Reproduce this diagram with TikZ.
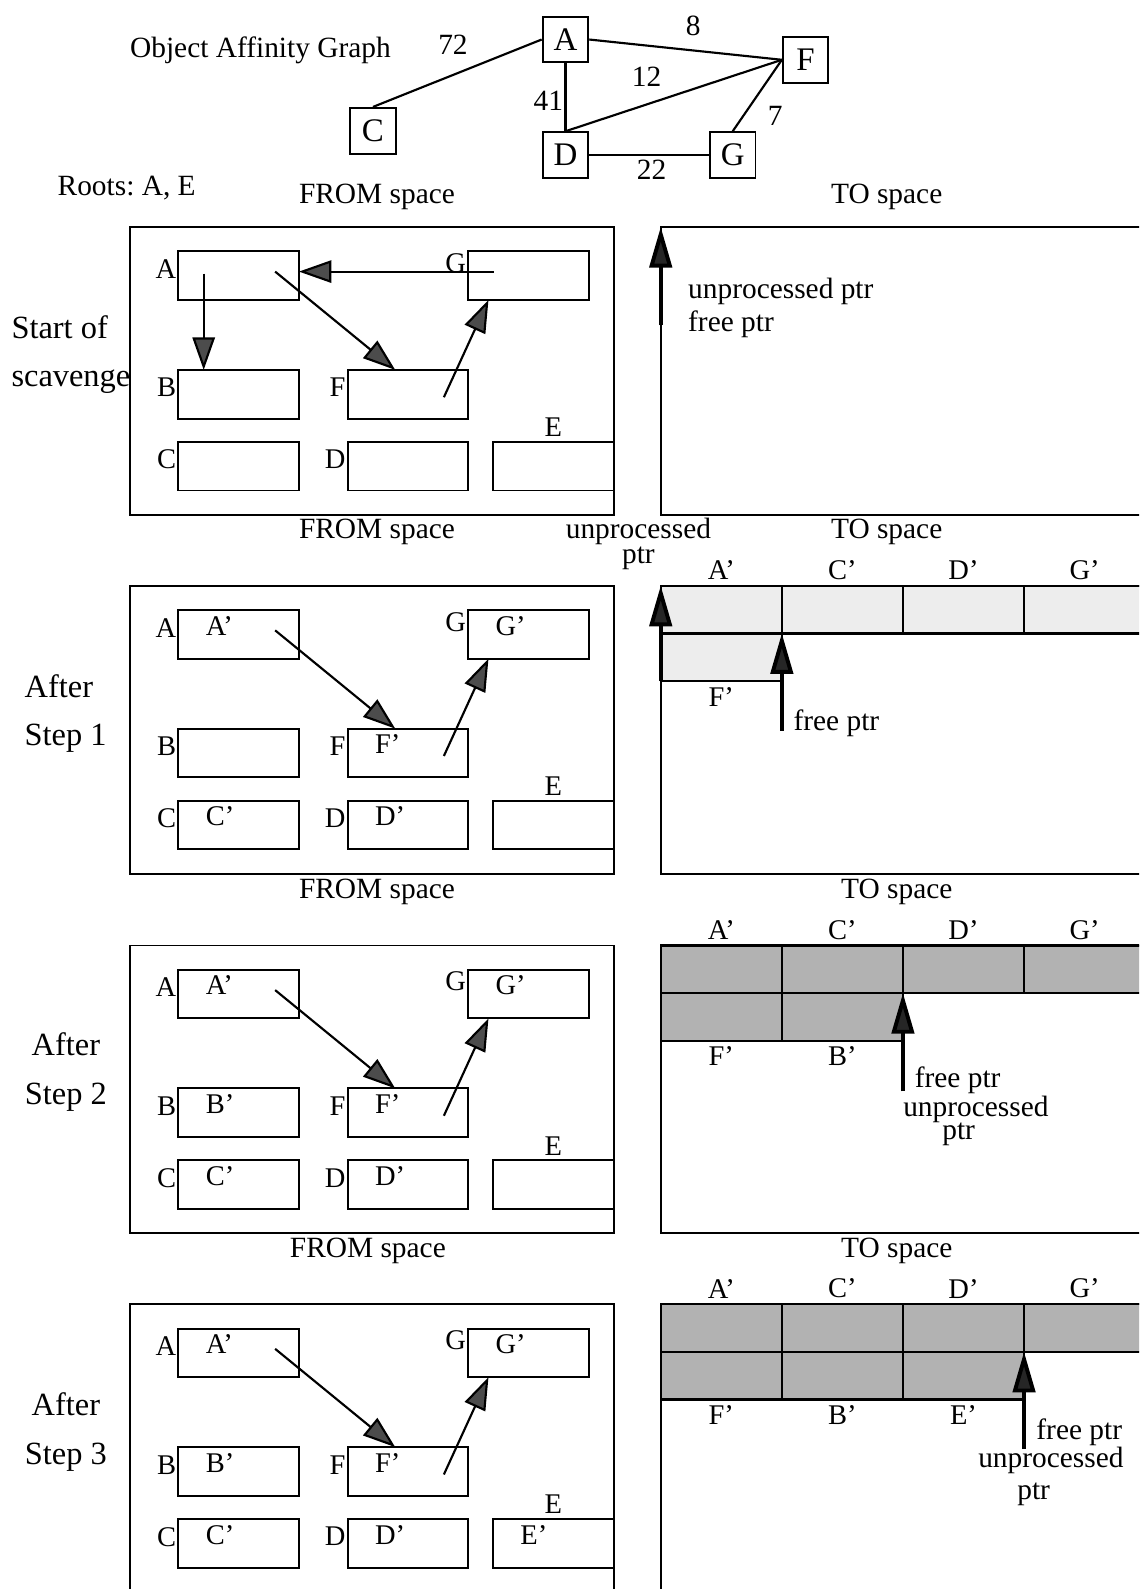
\documentclass[tikz,border=0pt]{standalone}
\usepackage{fontspec}
\setmainfont{Liberation Serif}
\usetikzlibrary{arrows.meta,positioning}

\tikzset{
  txt/.style={font=\fontsize{16.5}{18}\selectfont, inner sep=1pt},
  side/.style={font=\fontsize{18.2}{27.2}\selectfont, inner sep=0pt},
  small/.style={font=\fontsize{16}{17}\selectfont, inner sep=1pt},
  gnode/.style={draw, line width=1.1pt, minimum size=9mm, inner sep=0pt,
    font=\fontsize{18.5}{20}\selectfont},
  link/.style={line width=1.2pt},
  spacebox/.style={draw, line width=1.1pt, outer sep=0pt, inner sep=0pt,
    minimum height=56.8mm},
  obj/.style={draw, line width=1.1pt, outer sep=0pt, inner sep=0pt,
    minimum width=23.8mm, minimum height=9.6mm},
  cell/.style={draw, fill=#1, line width=1.3pt, outer sep=0pt, inner sep=0pt,
    minimum width=23.9mm, minimum height=9.4mm},
  cell/.default=black!30,
  oldlbl/.style={small, anchor=north east, yshift=-1.2mm},
  newlbl/.style={small, anchor=north west, xshift=5mm, yshift=-0.8mm},
  toplbl/.style={label={[small, label distance=0.8mm]above:#1}},
  botlbl/.style={label={[small, label distance=0.8mm]below:#1}},
  ref/.style={line width=1.2pt, -{Triangle[length=6.4mm, width=4.4mm, fill=black!70]}},
  ptr/.style={line width=2.2pt, -{Triangle[length=8mm, width=4.4mm, fill=black!85]}},
}

\begin{document}
\begin{tikzpicture}[x=0.2mm, y=-0.2mm]
  \clip (0,0) rectangle (1124,1568);

  % affinity graph
  \node[txt] (title) at (257,50) {Object Affinity Graph};
  \node[gnode] (gA) at (558,39) {A};
  \node[gnode] (gF) at (795,59) {F};
  \node[gnode] (gC) at (368,129) {C};
  \node[gnode] (gD) at (558,153) {D};
  \node[gnode] (gG) at (723,153) {G};
  \draw[link] (gC.north) -- (gA.west);
  \draw[link] (gA.east) -- (gF.west);
  \draw[link] (gA) -- (gD);
  \draw[link] (gD.north) -- (gF.west);
  \draw[link] (gF.west) -- (gG.north);
  \draw[link] (gD) -- (gG);
  \node[txt] (w72) at (447,44) {72};
  \node[txt] (w8) at (684,26) {8};
  \node[txt] (w12) at (638,76) {12};
  \node[txt] (w41) at (541,99) {41};
  \node[txt] (w7) at (765,114) {7};
  \node[txt] (w22) at (643,168) {22};
  \node[txt] (roots) at (125,186) {Roots:\ A, E};

  % headings
  \node[txt] (hf1) at (372,194) {FROM space};
  \node[txt] (ht1) at (875,194) {TO space};
  \node[txt] (hf2) at (372,525) {FROM space};
  \node[txt] (ht2) at (875,525) {TO space};
  \node[txt] (hf3) at (372,880) {FROM space};
  \node[txt] (ht3) at (885,880) {TO space};
  \node[txt] (hf4) at (363,1234) {FROM space};
  \node[txt] (ht4) at (885,1234) {TO space};

  \node[side, align=left, anchor=west] (s1) at (11,350) {Start of\\scavenge};
  \node[side, align=left, anchor=west] (s2) at (24,704) {After\\Step 1};
  \node[side, align=center] (s3) at (65,1058) {After\\Step 2};
  \node[side, align=center] (s4) at (65,1413) {After\\Step 3};

  % FROM and TO space, one row per step
  \foreach \p/\yy/\ca/\cb/\cc/\cd/\ce/\cf/\cg in {1/224/{}/{}/{}/{}/{}/{}/{},
      2/578/A'/{}/C'/D'/{}/F'/G', 3/933/A'/B'/C'/D'/{}/F'/G',
      4/1287/A'/B'/C'/D'/E'/F'/G'} {
    \begin{scope}[shift={(0,\yy)}]
      \node[spacebox, minimum width=95.6mm, anchor=north west] (from\p) at (128,0) {};
      \node[spacebox, minimum width=101.6mm, anchor=north west] (to\p) at (652,0) {};
      \node[obj, label={[oldlbl]north west:A}, label={[newlbl]north west:\ca}] (fA\p) at (235.5,48) {};
      \node[obj, label={[small, anchor=north east]north west:G}, label={[newlbl]north west:\cg}] (fG\p) at (521.5,48) {};
      \node[obj, label={[oldlbl]north west:B}, label={[newlbl]north west:\cb}] (fB\p) at (235.5,165) {};
      \node[obj, label={[oldlbl]north west:F}, label={[newlbl]north west:\cf}] (fF\p) at (402.5,165) {};
      \node[obj, label={[oldlbl]north west:C}, label={[newlbl]north west:\cc}] (fC\p) at (235.5,236) {};
      \node[obj, label={[oldlbl]north west:D}, label={[newlbl]north west:\cd}] (fD\p) at (402.5,236) {};
      \node[obj, label={[small, label distance=0.6mm]above:E}, label={[newlbl]north west:\ce}] (fE\p) at (546,236) {};
      \draw[ref] ([xshift=-4.7mm, yshift=0.8mm]fA\p.east) -- ([xshift=-2.5mm]fF\p.north);
      \draw[ref] ([xshift=7.1mm, yshift=-0.6mm]fF\p.center) -- ([xshift=4mm]fG\p.south west);
    \end{scope}
  }
  \draw[ref] ([xshift=5mm, yshift=0.4mm]fA1.west) -- ([xshift=5mm]fB1.north west);
  \draw[ref] ([xshift=-6.9mm, yshift=0.8mm]fG1.center) -- ([yshift=0.8mm]fA1.east);

  % copied objects in TO space
  \foreach \p/\yy/\tone in {2/578/black!7, 3/933/black!30, 4/1287/black!30} {
    \node[cell=\tone, anchor=north west, toplbl=A'] (tA\p) at (652,\yy) {};
    \node[cell=\tone, right=0pt of tA\p, toplbl=C'] (tC\p) {};
    \node[cell=\tone, right=0pt of tC\p, toplbl=D'] (tD\p) {};
    \node[cell=\tone, right=0pt of tD\p, toplbl=G'] (tG\p) {};
    \node[cell=\tone, below=0pt of tA\p, botlbl=F'] (tF\p) {};
  }
  \node[cell, below=0pt of tC3, botlbl=B'] (tB3) {};
  \node[cell, below=0pt of tC4, botlbl=B'] (tB4) {};
  \node[cell, below=0pt of tD4, botlbl=E'] (tE4) {};

  % pointers
  \draw[ptr] ([yshift=-19.4mm]to1.north west) -- (to1.north west);
  \node[txt, align=left, anchor=west, font=\fontsize{16.5}{18.2}\selectfont] (p1) at (677,304) {unprocessed ptr\\free ptr};

  \draw[ptr] (tF2.south west) -- (tA2.north west);
  \draw[ptr] ([yshift=-9.8mm]tF2.south east) -- (tF2.north east);
  \node[txt, align=center, font=\fontsize{16.5}{12.5}\selectfont] (p2u) at (630,537) {unprocessed\\ptr};
  \node[txt, anchor=west] (p2f) at (781,714) {free ptr};

  \draw[ptr] ([yshift=-10mm]tB3.south east) -- (tB3.north east);
  \node[txt, align=center, font=\fontsize{16.5}{13.4}\selectfont] (p3) at (963,1092)
    {free ptr\hspace*{7.2mm}\\unprocessed\\ptr\hspace*{6.8mm}};

  \draw[ptr] ([yshift=-9.8mm]tE4.south east) -- (tE4.north east);
  \node[txt, align=center, font=\fontsize{16.5}{13.4}\selectfont] (p4) at (1037,1443)
    {\hspace*{11.2mm}free ptr\\unprocessed\\[1.6mm]ptr\hspace*{6.8mm}};
\end{tikzpicture}
\end{document}
